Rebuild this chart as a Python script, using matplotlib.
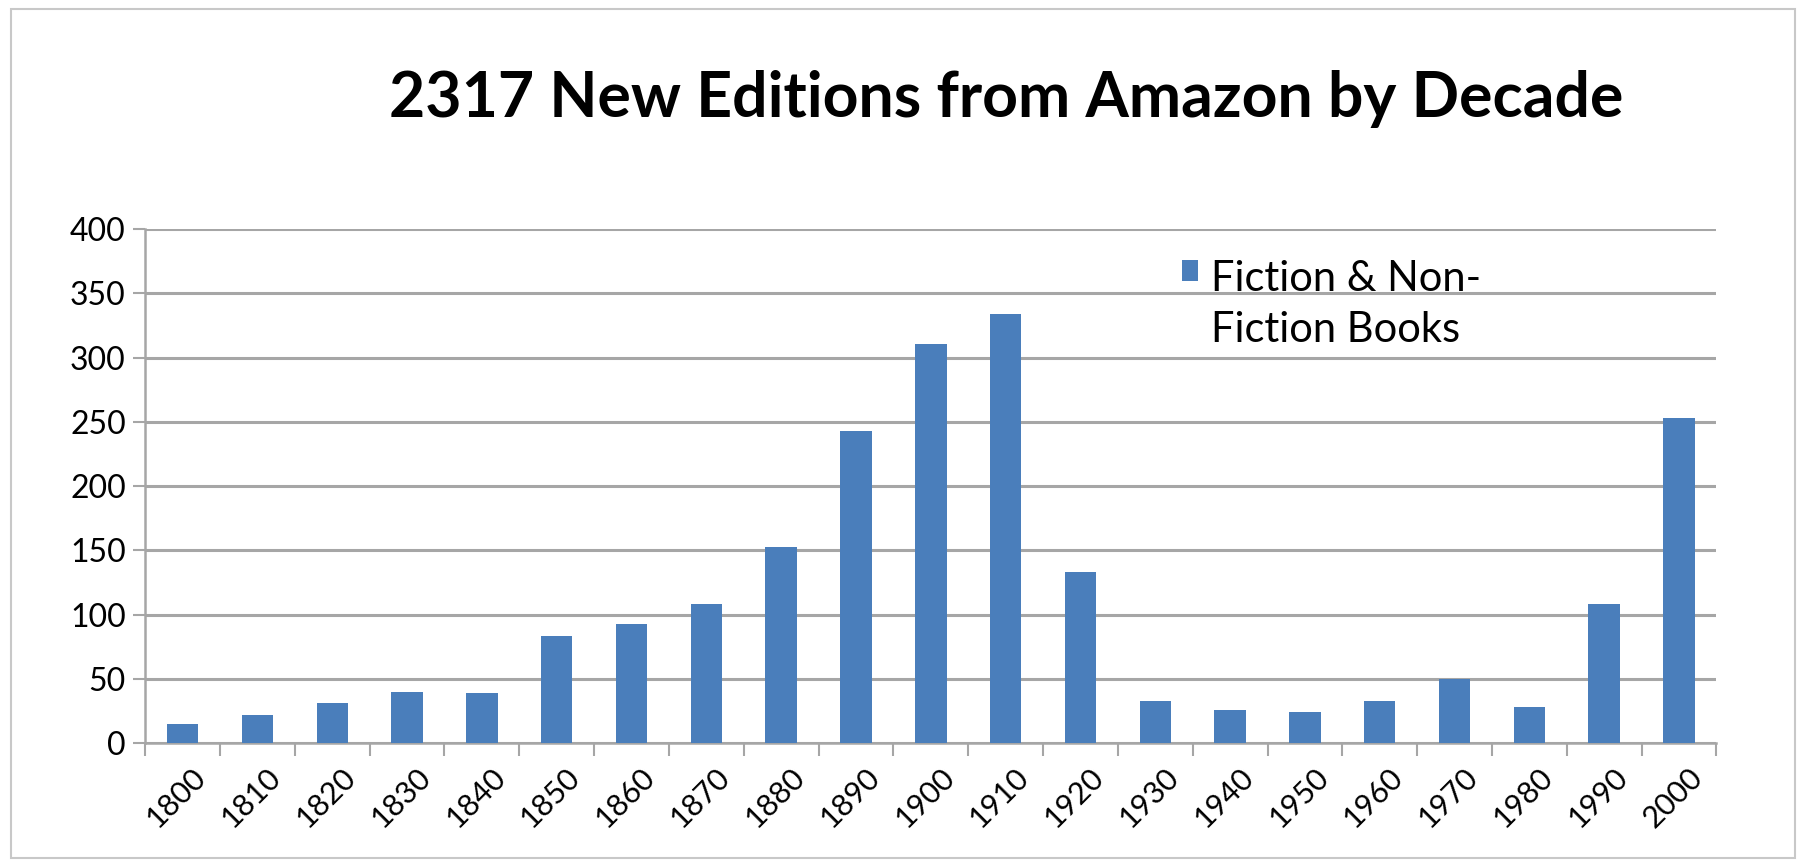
#!/usr/bin/env python3
'''
    Bar chart of new editions from Amazon, counted by decade.
'''
import matplotlib
matplotlib.use("Agg")
import matplotlib.pyplot as plt
import matplotlib.transforms as mtransforms
from matplotlib.patches import Rectangle

decades = ["1800", "1810", "1820", "1830", "1840", "1850", "1860", "1870",
           "1880", "1890", "1900", "1910", "1920", "1930", "1940", "1950",
           "1960", "1970", "1980", "1990", "2000"]
editions = [15, 22, 31, 40, 39, 83, 93, 108, 153, 243, 311, 334, 133,
            33, 26, 24, 33, 50, 28, 108, 253]
yticks = [0, 50, 100, 150, 200, 250, 300, 350, 400]
series_label = "Fiction & Non-\nFiction Books"
title = "2317 New Editions from Amazon by Decade"

BLUE = "#4a7ebb"
GRID = "#a6a6a6"

plt.rcParams["font.family"] = ["Lato", "DejaVu Sans"]

fig = plt.figure(figsize=(18.06, 8.65), dpi=100)
fig.patches.append(Rectangle((0.006, 0.008), 0.988, 0.982, transform=fig.transFigure,
                             fill=False, edgecolor="#c8c8c8", linewidth=1.5))
ax = fig.add_axes([0.0804, 0.141, 0.870, 0.594])

x = list(range(len(decades)))
ax.bar(x, editions, width=0.42, color=BLUE, label=series_label, zorder=3)

ax.set_xlim(-0.5, len(decades) - 0.5)
ax.set_ylim(0, 400)
ax.set_yticks(yticks)
ax.set_yticklabels([str(v) for v in yticks], fontsize=23)
ax.yaxis.grid(True, color=GRID, linewidth=2.2, zorder=0)
ax.tick_params(axis="y", length=9, width=1.5, color=GRID, pad=5)

ax.set_xticks(x)
ax.set_xticklabels(decades, rotation=45, ha="right", va="top",
                   rotation_mode="anchor", fontsize=22)
ax.tick_params(axis="x", which="major", length=0, pad=14)
shift = mtransforms.ScaledTranslation(0.09, 0, fig.dpi_scale_trans)
for lbl in ax.get_xticklabels():
    lbl.set_transform(lbl.get_transform() + shift)
ax.set_xticks([i - 0.5 for i in range(len(decades) + 1)], minor=True)
ax.tick_params(axis="x", which="minor", length=9, width=1.5, color=GRID)

for side in ("top", "right"):
    ax.spines[side].set_visible(False)
for side in ("left", "bottom"):
    ax.spines[side].set_color(GRID)
    ax.spines[side].set_linewidth(1.8)

leg = ax.legend(loc="upper left", bbox_to_anchor=(0.649, 0.972), frameon=False,
                fontsize=30, handlelength=0.4, handleheight=0.4,
                handletextpad=0.3, borderaxespad=0)
leg.get_texts()[0].set_linespacing(1.4)
for row in leg._legend_handle_box.get_children():
    for item in row.get_children():
        item.align = "top"

fig.text(0.557, 0.885, title, ha="center", va="center",
         fontsize=45, fontweight="bold")

fig.savefig("out.png", dpi=100)
